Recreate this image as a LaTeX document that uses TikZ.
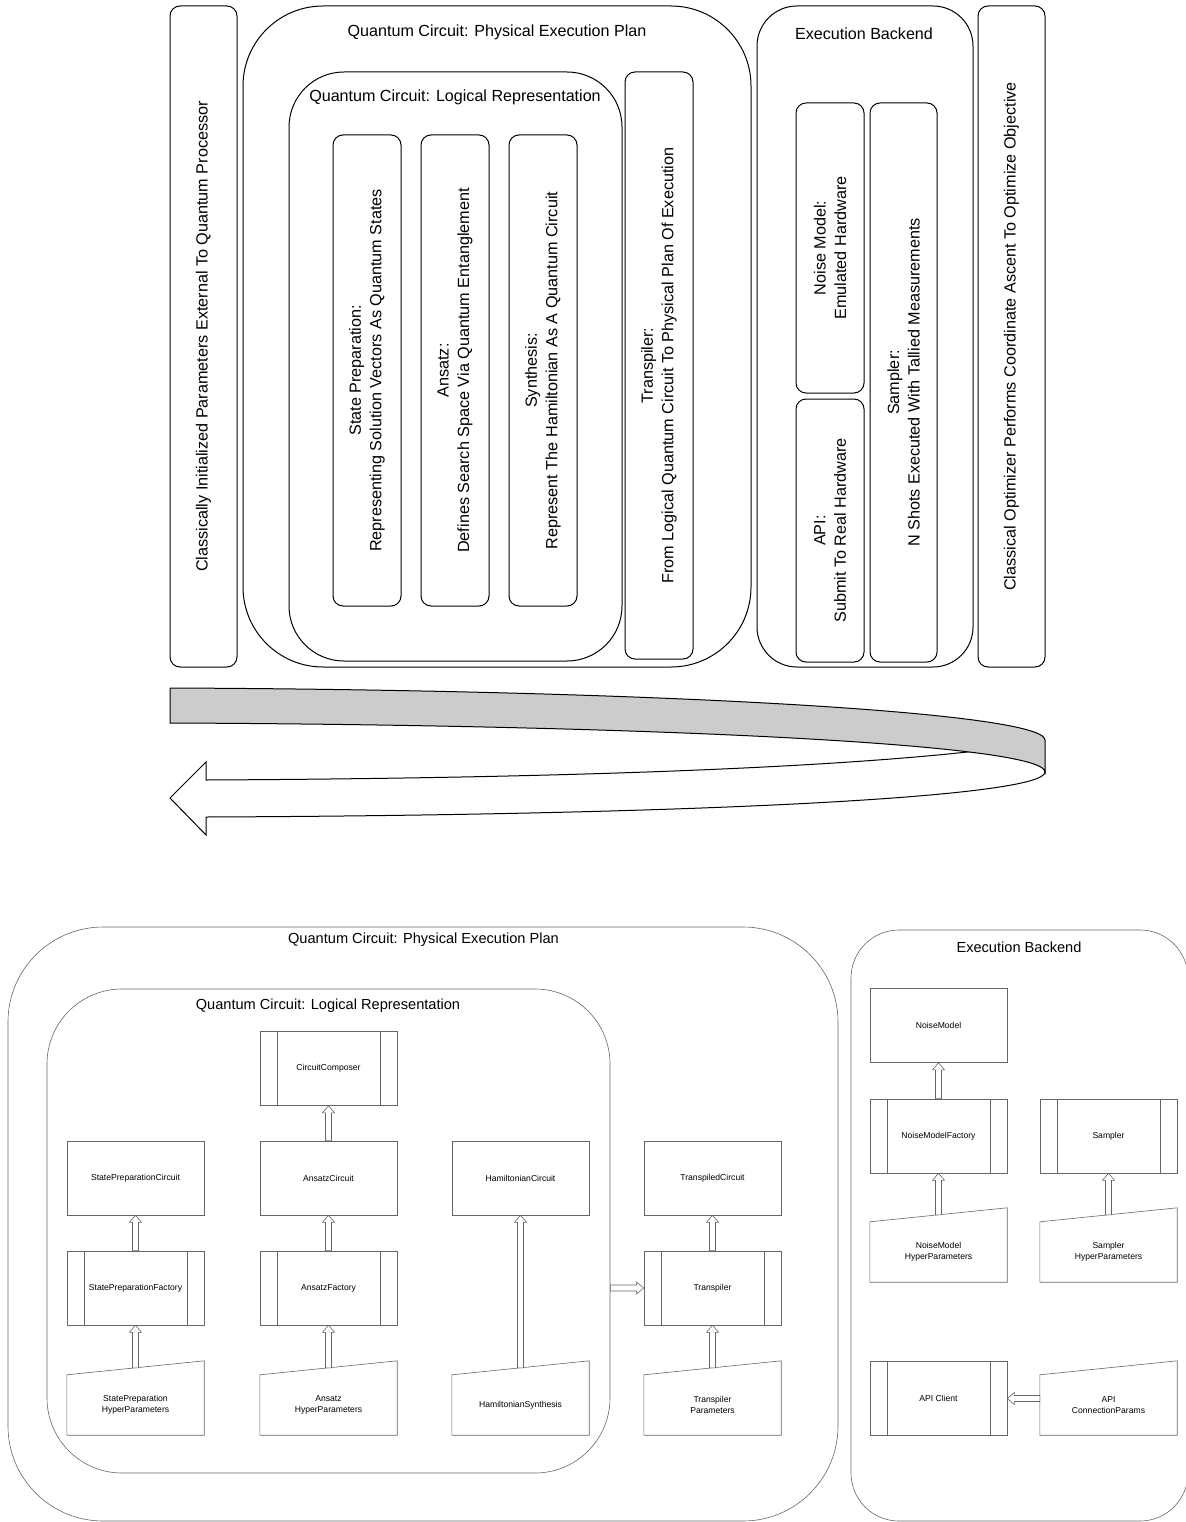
\documentclass[tikz,border=0pt]{standalone}
\usepackage{fontspec}
\setmainfont{Liberation Sans}
\usetikzlibrary{calc}
\begin{document}
\begin{tikzpicture}[x=1pt,y=-1pt,
  tb/.style={draw=black, line width=1pt, rounded corners=10pt, inner sep=0pt, align=center, rotate=90, font=\fontsize{16.2}{20.5}\selectfont},
  cont/.style={draw=black, line width=1pt, inner sep=0pt},
  ttl/.style={font=\fontsize{16.1}{19}\selectfont, inner sep=0pt},
  bttl/.style={font=\fontsize{14.6}{17}\selectfont, inner sep=0pt},
  bcont/.style={draw=black!60, line width=0.6pt, inner sep=0pt},
  bline/.style={draw=black!60, line width=0.6pt},
  bbox/.style={draw=black!60, line width=0.6pt, inner sep=0pt, minimum width=137pt, minimum height=74pt, align=center, font=\fontsize{8.6}{11.5}\selectfont},
  proc/.style={bbox, path picture={
     \draw[bline] ([xshift=17pt]path picture bounding box.north west) -- ([xshift=17pt]path picture bounding box.south west)
                  ([xshift=-17pt]path picture bounding box.north east) -- ([xshift=-17pt]path picture bounding box.south east);}},
  minput/.style={inner sep=0pt, minimum width=137pt, minimum height=60pt, align=center, font=\fontsize{8.6}{11.5}\selectfont},
  hollowarrow/.style={draw=black!60, fill=white, line width=0.6pt,
    to path={let \p1=($(\tikztotarget)-(\tikztostart)$), \n1={atan2(\y1,\x1)}, \n2={veclen(\x1,\y1)} in
      ($(\tikztostart)+(\n1+90:3pt)$) -- ($(\tikztostart)+(\n1:\n2-7pt)+(\n1+90:3pt)$) -- ($(\tikztostart)+(\n1:\n2-7pt)+(\n1+90:6pt)$) -- (\tikztotarget) -- ($(\tikztostart)+(\n1:\n2-7pt)+(\n1-90:6pt)$) -- ($(\tikztostart)+(\n1:\n2-7pt)+(\n1-90:3pt)$) -- ($(\tikztostart)+(\n1-90:3pt)$) -- cycle}}
]
\useasboundingbox (0,0) rectangle (1185,1522);

% ---------------- top section ----------------
\node[cont, rounded corners=80pt, minimum width=508pt, minimum height=661pt] (tphys) at (497,336.5) {};
\node[ttl] (tphysT) at (497,32) {Quantum Circuit: Physical Execution Plan};
\node[cont, rounded corners=55pt, minimum width=333pt, minimum height=589pt] (tlog) at (455.5,366.5) {};
\node[ttl] (tlogT) at (455,97) {Quantum Circuit: Logical Representation};
\node[cont, rounded corners=40pt, minimum width=216pt, minimum height=661pt] (tback) at (865,336.5) {};
\node[ttl] (tbackT) at (864,34) {Execution Backend};

\node[tb, minimum width=661pt, minimum height=67pt] (tclass) at (203.5,336.5) {Classically Initialized Parameters External To Quantum Processor};
\node[tb, minimum width=471pt, minimum height=68pt] (tstate) at (367,370.5) {State Preparation:\\Representing Solution Vectors As Quantum States};
\node[tb, minimum width=471pt, minimum height=68pt] (tans) at (455,370.5) {Ansatz:\\Defines Search Space Via Quantum Entanglement};
\node[tb, minimum width=471pt, minimum height=68pt] (tsyn) at (543,370.5) {Synthesis:\\Represent The Hamiltonian As A Quantum Circuit};
\node[tb, minimum width=587pt, minimum height=68pt] (ttrans) at (659,365.5) {Transpiler:\\From Logical Quantum Circuit To Physical Plan Of Execution};
\node[tb, minimum width=290pt, minimum height=68pt] (tnoise) at (830,248) {Noise Model:\\Emulated Hardware};
\node[tb, minimum width=263pt, minimum height=68pt] (tapi) at (830,530.5) {API:\\Submit To Real Hardware};
\node[tb, minimum width=559pt, minimum height=67pt] (tsamp) at (903.5,382.5) {Sampler:\\N Shots Executed With Tallied Measurements};
\node[tb, minimum width=661pt, minimum height=67pt] (topt) at (1011.5,336.5) {Classical Optimizer Performs Coordinate Ascent To Optimize Objective};

% curved feedback arrow
\draw[line width=1pt, fill=white] (1045,772) .. controls (1045,797) and (700,815) .. (206,817) -- (206,835) -- (170,798) -- (206,762) -- (206,780) .. controls (600,778) and (850,766) .. (985,750) -- (1040,748) -- cycle;
\draw[line width=1pt, fill=black!20] (170,688) .. controls (650,690) and (1045,712) .. (1045,740) -- (1045,772) .. controls (1045,744) and (650,725) .. (170,723) -- cycle;

% ---------------- bottom section ----------------
\node[bcont, rounded corners=95pt, minimum width=830pt, minimum height=594pt] (bphys) at (423,1224) {};
\node[bttl] (bphysT) at (423.5,940) {Quantum Circuit: Physical Execution Plan};
\node[bcont, rounded corners=75pt, minimum width=563pt, minimum height=484pt] (blog) at (328.5,1231) {};
\node[bttl] (blogT) at (328,1006) {Quantum Circuit: Logical Representation};
\node[bcont, rounded corners=48pt, minimum width=337pt, minimum height=591pt] (bback) at (1019.5,1225.5) {};
\node[bttl] (bbackT) at (1019,947) {Execution Backend};

\node[proc] (cc) at (328.5,1068.5) {CircuitComposer};
\node[bbox] (spc) at (135.5,1178) {StatePreparationCircuit};
\node[bbox] (ac) at (328.5,1178) {AnsatzCircuit};
\node[bbox] (hc) at (520.5,1178) {HamiltonianCircuit};
\node[bbox] (tc) at (712.5,1178) {TranspiledCircuit};
\node[proc] (spf) at (135.5,1288) {StatePreparationFactory};
\node[proc] (af) at (328.5,1288) {AnsatzFactory};
\node[proc] (tr) at (712.5,1288) {Transpiler};
\node[minput] (sph) at (135.5,1405) {StatePreparation\\HyperParameters};
\node[minput] (ah) at (328.5,1405) {Ansatz\\HyperParameters};
\node[minput] (hs) at (520.5,1405) {HamiltonianSynthesis};
\node[minput] (tp) at (712.5,1405) {Transpiler\\Parameters};
\node[bbox] (nm) at (938.5,1025.5) {NoiseModel};
\node[proc] (nmf) at (938.5,1136) {NoiseModelFactory};
\node[proc] (smp) at (1108.5,1136) {Sampler};
\node[minput] (nmh) at (938.5,1252) {NoiseModel\\HyperParameters};
\node[minput] (smh) at (1108.5,1252) {Sampler\\HyperParameters};
\node[proc] (apic) at (938.5,1398.5) {API Client};
\node[minput] (apip) at (1108.5,1405) {API\\ConnectionParams};

\foreach \m in {sph,ah,hs,tp,nmh,smh,apip}{
  \draw[bline] (\m.south west) -- (\m.south east) -- ([yshift=14pt]\m.north east) -- (\m.north west) -- cycle;
  \coordinate (\m-t) at ([yshift=7pt]\m.north);
}
\coordinate (lrE) at (blog.east |- tr.west);
\coordinate (apiE) at (apip.west |- apic.east);

\draw[hollowarrow] (ac.north) to (cc.south);
\draw[hollowarrow] (spf.north) to (spc.south);
\draw[hollowarrow] (sph-t) to (spf.south);
\draw[hollowarrow] (af.north) to (ac.south);
\draw[hollowarrow] (ah-t) to (af.south);
\draw[hollowarrow] (hs-t) to (hc.south);
\draw[hollowarrow] (lrE) to (tr.west);
\draw[hollowarrow] (tr.north) to (tc.south);
\draw[hollowarrow] (tp-t) to (tr.south);
\draw[hollowarrow] (nmf.north) to (nm.south);
\draw[hollowarrow] (nmh-t) to (nmf.south);
\draw[hollowarrow] (smh-t) to (smp.south);
\draw[hollowarrow] (apiE) to (apic.east);
\end{tikzpicture}
\end{document}
